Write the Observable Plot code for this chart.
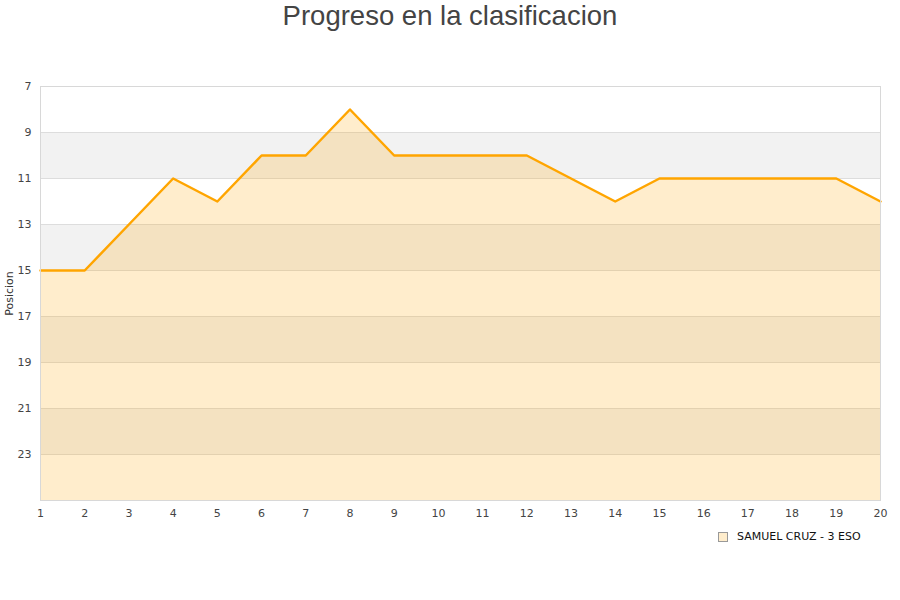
<!DOCTYPE html>
<html>
<head>
<meta charset="utf-8">
<script src="https://cdn.jsdelivr.net/npm/d3@7"></script>
<script src="https://cdn.jsdelivr.net/npm/@observablehq/plot@0.6"></script>
<style>
  html, body { margin: 0; padding: 0; background: #fff; }
  #wrap { position: relative; width: 900px; height: 600px; }
  #title { position: absolute; left: 0; top: 0; width: 900px; height: 40px; text-align: center;
           font-family: "Liberation Sans", Arial, sans-serif; font-size: 27.5px; color: #444; line-height: 32px; }
  #chart { position: absolute; left: 0; top: 40px; }
  #legend { position: absolute; left: 718px; top: 530px; font-family: "DejaVu Sans", sans-serif;
            font-size: 11px; color: #111; display: flex; align-items: center; }
  #legend .sw { width: 8px; height: 8px; border: 1px solid #999; background: #ffedcc; margin-right: 9px; }
</style>
</head>
<body>
<div id="wrap">
  <div id="title">Progreso en la clasificacion</div>
  <div id="chart"></div>
  <div id="legend"><span class="sw"></span><span>SAMUEL CRUZ - 3 ESO</span></div>
</div>
<script>
const jornadas = [1,2,3,4,5,6,7,8,9,10,11,12,13,14,15,16,17,18,19,20];
const posicion = [15,15,13,11,12,10,10,8,10,10,10,10,11,12,11,11,11,11,11,12];
const yTicks = [7,9,11,13,15,17,19,21,23];
const yMax = 25;
const serie = "SAMUEL CRUZ - 3 ESO";

const data = jornadas.map((j, i) => ({jornada: j, pos: posicion[i]}));
const bands = yTicks.filter((t, i) => i % 2 === 1).map(t => ({y1: t, y2: t + 2}));

const plot = Plot.plot({
  width: 900,
  height: 485,
  marginTop: 46,
  marginLeft: 40,
  marginRight: 20,
  marginBottom: 25,
  style: {fontFamily: "DejaVu Sans, sans-serif", fontSize: "11px", color: "#444", background: "transparent"},
  x: {domain: [1, 20], ticks: jornadas, tickSize: 0, tickPadding: 9, tickFormat: d => String(d), label: null},
  y: {domain: [7, yMax], reverse: true, ticks: yTicks, tickSize: 0, tickPadding: 9, label: null},
  marks: [
    Plot.rect(bands, {x1: 1, x2: 20, y1: "y1", y2: "y2", fill: "#f2f2f2"}),
    Plot.ruleY(yTicks, {stroke: "#dddddd", strokeWidth: 1}),
    Plot.areaY(data, {x: "jornada", y1: yMax, y2: "pos", fill: "#FFA500", fillOpacity: 0.2}),
    Plot.line(data, {x: "jornada", y: "pos", stroke: "#FFA500", strokeWidth: 2.5, strokeLinejoin: "round", strokeLinecap: "round"}),
    Plot.frame({stroke: "#d8d8d8"}),
    Plot.axisX({ticks: jornadas, tickSize: 0, tickPadding: 9, label: null}),
    Plot.axisY({ticks: yTicks, tickSize: 0, tickPadding: 9, label: null}),
    Plot.text(["Posicion"], {frameAnchor: "left", textAnchor: "middle", dx: -31, rotate: -90, fontSize: 11, fill: "#333"})
  ]
});
document.getElementById("chart").appendChild(plot);
</script>
</body>
</html>
